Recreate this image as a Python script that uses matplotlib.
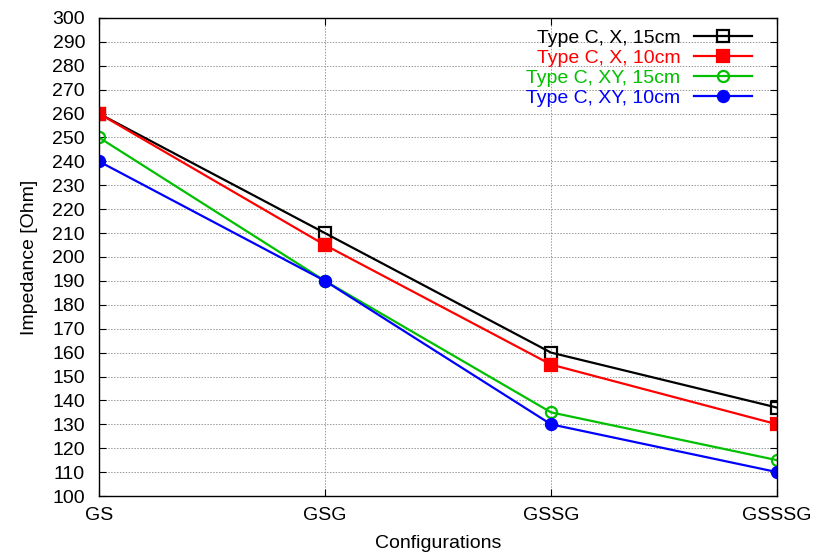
import numpy as np
import matplotlib
matplotlib.use("Agg")
import matplotlib.pyplot as plt

plt.rcParams['font.family'] = ['Liberation Sans', 'DejaVu Sans']

configs = ['GS', 'GSG', 'GSSG', 'GSSSG']
x_15 = [260, 210, 160, 137]   # Type C, X, 15cm
x_10 = [260, 205, 155, 130]   # Type C, X, 10cm
xy_15 = [250, 190, 135, 115]  # Type C, XY, 15cm
xy_10 = [240, 190, 130, 110]  # Type C, XY, 10cm

labels = ['Type C, X, 15cm', 'Type C, X, 10cm', 'Type C, XY, 15cm', 'Type C, XY, 10cm']

fig = plt.figure(figsize=(8.2, 5.57), dpi=100)
ax = fig.add_axes([0.1207, 0.1095, 0.8269, 0.8582])

pos = np.arange(len(configs))
ax.plot(pos, x_15, color='black', lw=1.6, marker='s', ms=8, mfc='none', mew=1.6, label=labels[0])
ax.plot(pos, x_10, color='red', lw=1.6, marker='s', ms=8, mfc='red', mew=1.6, label=labels[1])
ax.plot(pos, xy_15, color='#00c000', lw=1.6, marker='o', ms=8, mfc='none', mew=1.6, label=labels[2])
ax.plot(pos, xy_10, color='blue', lw=1.6, marker='o', ms=8, mfc='blue', mew=1.6, label=labels[3])

ax.set_xlim(0, 3)
ax.set_ylim(100, 300)
ax.set_xticks(pos)
ax.set_xticklabels(configs)
ax.set_yticks(np.arange(100, 301, 10))
ax.tick_params(axis='both', direction='in', top=True, right=True, labelsize=14, length=5)
ax.tick_params(axis='y', pad=10)
ax.tick_params(axis='x', pad=8)
ax.grid(True, color='#999999', linestyle=(0, (1.5, 1.5)), linewidth=0.7)
for s in ax.spines.values():
    s.set_linewidth(1.0)

ax.set_xlabel('Configurations', fontsize=14, labelpad=8)
ax.set_ylabel('Impedance [Ohm]', fontsize=14, labelpad=10)

leg = ax.legend(loc='upper right', markerfirst=False, frameon=False, fontsize=14,
                labelcolor='linecolor', handlelength=3.0, handletextpad=0.7,
                labelspacing=0.12, borderaxespad=0.0, bbox_to_anchor=(0.975, 0.993))

fig.savefig('out.png', dpi=100)
